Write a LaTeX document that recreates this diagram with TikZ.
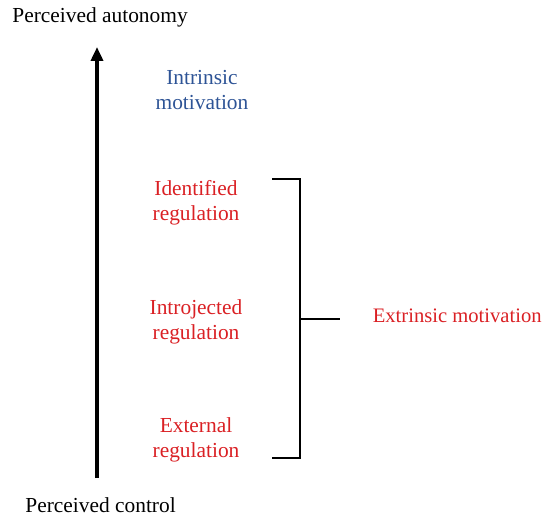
\documentclass[tikz,border=0pt]{standalone}
\usepackage{fontspec}
\setmainfont{Liberation Serif}
\definecolor{intr}{RGB}{46, 84, 150}
\definecolor{extr}{RGB}{218, 32, 36}
\usetikzlibrary{positioning}
\usetikzlibrary{arrows.meta}

\begin{document}
\begin{tikzpicture}[x=0.5pt, y=-0.5pt,
  every node/.style={inner sep=0pt, font=\fontsize{10.7}{12.3}\selectfont},
  lbl/.style={align=center, text=extr},
  brk/.style={line width=1pt, color=black}]
\useasboundingbox (0,0) rectangle (544,517);
\node (top) [anchor=west] at (12, 17) {Perceived autonomy};
\node (bot) [anchor=west] at (25, 505) {Perceived control};
\coordinate (a0) at (97, 478);
\coordinate (a1) at (97, 47);
\draw [line width=2pt, -{Triangle[length=7pt, width=6pt]}] (a0) to (a1);
\node (intr) [align=center, text=intr] at (202, 90) {Intrinsic\\motivation};
\node (iden) [lbl] at (196, 203) {Identified\\regulation};
\node (intro) [lbl] at (196, 322) {Introjected\\regulation};
\node (ext) [lbl] at (196, 440) {External\\regulation};
\node (extr) [lbl, anchor=east, font=\fontsize{10.3}{12.3}\selectfont] at (542, 316) {Extrinsic motivation};
\coordinate (b1) at (272, 179);
\coordinate (b2) at (300, 179);
\coordinate (b3) at (300, 458);
\coordinate (b4) at (272, 458);
\coordinate (m1) at (300, 319);
\coordinate (m2) at (340, 319);
\draw [brk] (b1) -- (b2) -- (b3) -- (b4);
\draw [brk] (m1) to (m2);
\end{tikzpicture}
\end{document}
